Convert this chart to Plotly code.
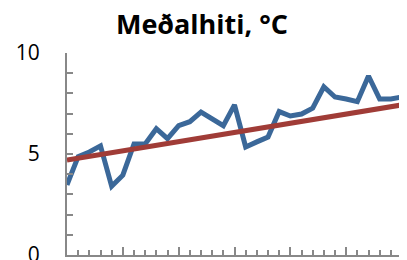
import plotly.graph_objects as go

years = list(range(31))
temps = [3.47, 4.87, 5.1, 5.4, 3.4, 3.95, 5.5, 5.5, 6.25, 5.76, 6.4, 6.6, 7.07, 6.7, 6.4,
         7.43, 5.35, 5.6, 5.84, 7.1, 6.88, 6.98, 7.27, 8.33, 7.82, 7.72, 7.59, 8.86, 7.72,
         7.72, 7.82]
trend_x = [0, 30]
trend_y = [4.7, 7.43]
y_tickvals = list(range(11))
y_ticktext = ["0", "", "", "", "", "5", "", "", "", "", "10"]
title_text = "Meðalhiti, °C"

fig = go.Figure()
fig.add_trace(go.Scatter(x=years, y=temps, mode="lines",
                         line=dict(color="#3B6899", width=5, shape="linear"),
                         showlegend=False, cliponaxis=False))
fig.add_trace(go.Scatter(x=trend_x, y=trend_y, mode="lines",
                         line=dict(color="#A03C37", width=5),
                         showlegend=False, cliponaxis=False))

axis_col = "#888888"
# page body has an 8px default margin, so the figure is sized to fit inside it
fig.update_layout(
    width=399, height=252,
    margin=dict(l=59, r=5, t=45, b=5, autoexpand=False),
    paper_bgcolor="white", plot_bgcolor="white",
    title=dict(text="<b>" + title_text + "</b>", x=(202 - 8) / 399, xanchor="center",
               y=1 - 17 / 252, yanchor="middle", yref="container",
               font=dict(family="Open Sans", size=27, color="black")),
    font=dict(family="Open Sans", color="black"),
    xaxis=dict(range=[0, 30], showgrid=False, zeroline=False, showline=True,
               automargin=False,
               linecolor=axis_col, linewidth=2, ticks="inside", tickmode="linear",
               tick0=0, dtick=5, ticklen=8, tickcolor=axis_col, tickwidth=1.5,
               showticklabels=False,
               minor=dict(ticks="inside", dtick=1, tick0=0, ticklen=5,
                          tickcolor=axis_col, tickwidth=1.5, showgrid=False)),
    yaxis=dict(range=[0, 10], showgrid=False, zeroline=False, showline=True,
               automargin=False, ticklabeloverflow="allow",
               linecolor=axis_col, linewidth=2, ticks="inside", tickmode="array",
               tickvals=y_tickvals, ticktext=y_ticktext, ticklen=6,
               tickcolor=axis_col, tickwidth=1.5, ticklabelstandoff=21,
               tickfont=dict(family="Open Sans", size=21, color="black")),
)
fig.write_html("out.html")
